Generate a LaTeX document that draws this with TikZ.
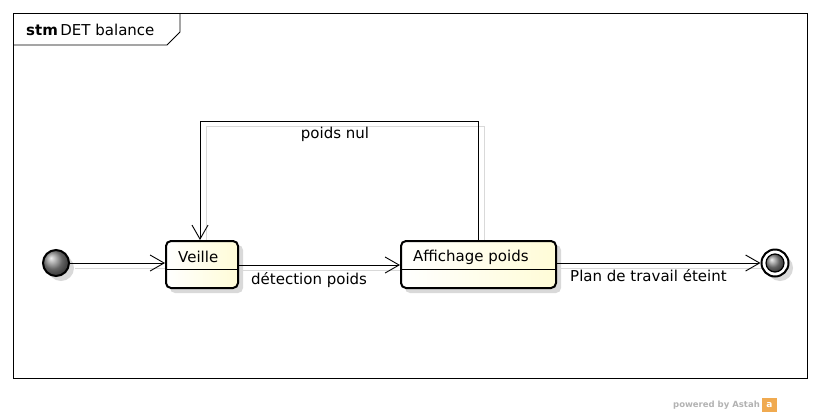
\documentclass[tikz,border=0pt]{standalone}
\usepackage{fontspec}
\setmainfont{DejaVu Sans}
\usetikzlibrary{arrows.meta,calc,shadows}
\definecolor{stfill}{RGB}{255,252,215}
\definecolor{astahor}{RGB}{240,170,80}
\tikzset{
  every node/.style={font=\fontsize{15}{17}\selectfont, inner sep=0pt},
  statebox/.style={draw=black, line width=2pt, rounded corners=5pt, left color=white, right color=stfill},
  shadowbox/.style={fill=black!15, draw=none, rounded corners=5pt},
  conn/.style={draw=black, line width=0.9pt, -{Straight Barb[length=14pt,width=16pt,line width=0.9pt]}},
  connshadow/.style={draw=black!15, line width=0.9pt},
}
\begin{document}
\begin{tikzpicture}[x=1pt,y=-1pt]
\useasboundingbox (0,0) rectangle (821,418);
% frame
\draw[line width=0.8pt] (13,13) rectangle (807,378);
\draw[line width=0.8pt] (13,45) -- (167,45) -- (180,32) -- (180,13);
\node[anchor=west] (title) at (26,30) {\textbf{stm}\,DET balance};

% shadows of states
\fill[shadowbox] (170,245) rectangle (243,293);
\fill[shadowbox] (405,245) rectangle (561,293);
\fill[black!15] (61,268) circle (13);
\fill[black!15] (780,268) circle (13);

% connector shadows
\draw[connshadow] (75,268) -- (171,268);
\draw[connshadow] (243,270) -- (405,270);
\draw[connshadow] (561,268) -- (770,268);
\draw[connshadow] (484,245) -- (484,126) -- (206,126) -- (206,245);

% states
\node[statebox, minimum width=72, minimum height=47, anchor=north west] (veille) at (165,240) {};
\draw[line width=0.8pt] (veille.west |- 0,269) -- (veille.east |- 0,269);
\node[anchor=west] (veilleT) at (178,257) {Veille};

\node[statebox, minimum width=155, minimum height=47, anchor=north west] (aff) at (400,240) {};
\draw[line width=0.8pt] (aff.west |- 0,269) -- (aff.east |- 0,269);
\node[anchor=west] (affT) at (413,257) {Affichage poids};

% initial
\node[circle, draw=black, line width=2pt, minimum size=26, ball color=gray!90] (init) at (56,263) {};
% final
\node[circle, draw=black, line width=2pt, minimum size=27, fill=white] (fin) at (775,263) {};
\node[circle, draw=black, line width=1.2pt, minimum size=18, ball color=gray!90] (finin) at (775,263) {};

% connectors
\draw[conn] (init.east) -- (veille.west |- 0,263);
\draw[conn] (veille.east |- 0,265) -- (aff.west |- 0,265);
\draw[conn] (aff.east |- 0,263) -- (fin.west);
\coordinate (c1) at (478,121);
\coordinate (c2) at (200,121);
\draw[conn] (aff.north -| 478,0) -- (c1) -- (c2) -- (veille.north -| 200,0);

% labels
\node[anchor=west] (l1) at (251,280) {détection poids};
\node[anchor=west] (l2) at (570,276) {Plan de travail éteint};
\node (l3) at (335,134) {poids nul};

% powered by
\node[anchor=east, text=black!30, font=\fontsize{8.5}{10}\selectfont\bfseries] (pw) at (760,405) {powered by Astah};
\fill[astahor] (762,398) rectangle (777,412);
\node[text=white, font=\fontsize{9}{10}\selectfont\bfseries] (ico) at (769.5,405) {a};
\end{tikzpicture}
\end{document}
